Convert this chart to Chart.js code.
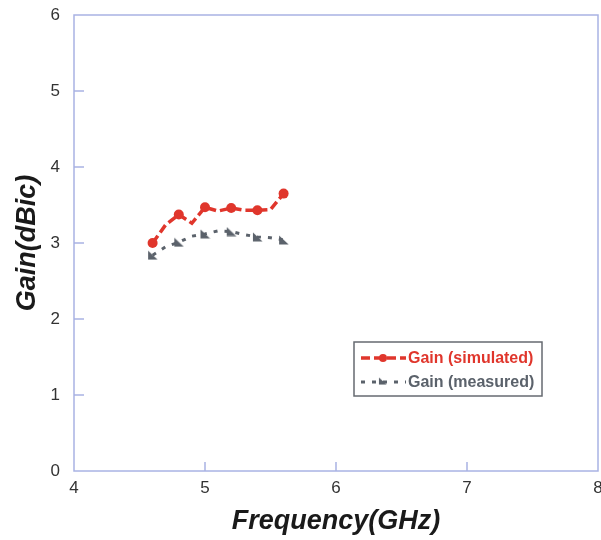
<!DOCTYPE html>
<html>
<head>
<meta charset="utf-8">
<script src="https://cdn.jsdelivr.net/npm/chart.js@4/dist/chart.umd.min.js"></script>
<style>
  html, body { margin: 0; padding: 0; background: #ffffff; overflow: hidden; }
  #wrap { width: 601px; height: 540px; position: relative; overflow: hidden; }
  #c { display: block; }
</style>
</head>
<body>
<div id="wrap"><canvas id="c" width="606" height="540"></canvas></div>
<script>
// ---- data ----
const frequency = [4.6, 4.7, 4.8, 4.9, 5.0, 5.1, 5.2, 5.3, 5.4, 5.5, 5.6];
const gainSimulated = [3.00, 3.24, 3.375, 3.26, 3.47, 3.42, 3.46, 3.43, 3.43, 3.44, 3.65];
const gainMeasured = [2.84, 2.95, 3.01, 3.09, 3.12, 3.16, 3.15, 3.11, 3.08, 3.07, 3.04];
const seriesLabels = ['Gain (simulated)', 'Gain (measured)'];
const xTicks = [4, 5, 6, 7, 8];
const yTicks = [0, 1, 2, 3, 4, 5, 6];
const xTitle = 'Frequency(GHz)';
const yTitle = 'Gain(dBic)';

const RED = '#e0362c';
const GRAY = '#5b626b';
const AXIS = '#a9b3e4';
const FONT = '"Liberation Sans", Arial, Helvetica, sans-serif';

// right-angle triangle marker (◣)
function makeTriangle(color) {
  const cv = document.createElement('canvas');
  cv.width = 11; cv.height = 10;
  const g = cv.getContext('2d');
  g.fillStyle = color;
  g.beginPath();
  g.moveTo(1, 0.5);
  g.lineTo(1, 9.5);
  g.lineTo(10.5, 9.5);
  g.closePath();
  g.fill();
  return cv;
}
const triImg = makeTriangle(GRAY);

const toPts = (xs, ys) => xs.map((x, i) => ({ x: x, y: ys[i] }));

const frameAndTicks = {
  id: 'frameAndTicks',
  beforeDatasetsDraw(chart) {
    const { ctx, chartArea: a, scales } = chart;
    ctx.save();
    ctx.strokeStyle = AXIS;
    ctx.lineWidth = 1.5;
    ctx.strokeRect(a.left, a.top, a.right - a.left, a.bottom - a.top);
    ctx.beginPath();
    xTicks.forEach(v => {
      if (v === xTicks[0] || v === xTicks[xTicks.length - 1]) return;
      const px = scales.x.getPixelForValue(v);
      ctx.moveTo(px, a.bottom);
      ctx.lineTo(px, a.bottom - 9);
    });
    yTicks.forEach(v => {
      if (v === yTicks[0] || v === yTicks[yTicks.length - 1]) return;
      const py = scales.y.getPixelForValue(v);
      ctx.moveTo(a.left, py);
      ctx.lineTo(a.left + 10, py);
    });
    ctx.stroke();
    ctx.restore();
  }
};

const legendBox = {
  id: 'legendBox',
  afterDraw(chart) {
    const ctx = chart.ctx;
    const bx = 354, by = 342, bw = 188, bh = 54;
    ctx.save();
    ctx.fillStyle = '#ffffff';
    ctx.fillRect(bx, by, bw, bh);
    ctx.strokeStyle = '#666a70';
    ctx.lineWidth = 1.5;
    ctx.strokeRect(bx, by, bw, bh);
    const rows = [by + 16, by + 40];
    chart.data.datasets.forEach((ds, i) => {
      const y = rows[i];
      ctx.save();
      ctx.strokeStyle = ds.borderColor;
      ctx.lineWidth = ds.borderWidth;
      ctx.setLineDash(ds.borderDash);
      ctx.beginPath();
      ctx.moveTo(361, y);
      ctx.lineTo(406, y);
      ctx.stroke();
      ctx.restore();
      if (i === 0) {
        ctx.fillStyle = ds.backgroundColor;
        ctx.beginPath();
        ctx.arc(383, y, 4, 0, Math.PI * 2);
        ctx.fill();
      } else {
        ctx.drawImage(triImg, 378, y - 5, 9, 8);
      }
      ctx.fillStyle = ds.borderColor;
      ctx.font = 'bold 16px ' + FONT;
      ctx.textBaseline = 'middle';
      ctx.textAlign = 'left';
      ctx.fillText(ds.label, 408, y + 1);
    });
    ctx.restore();
  }
};

new Chart(document.getElementById('c'), {
  type: 'line',
  data: {
    datasets: [
      {
        label: seriesLabels[0],
        data: toPts(frequency, gainSimulated),
        borderColor: RED,
        backgroundColor: RED,
        borderWidth: 3.5,
        borderDash: [9, 4],
        pointStyle: 'circle',
        pointRadius: ctx => (ctx.dataIndex % 2 === 0 ? 5 : 0),
        pointBorderWidth: 0,
        pointBackgroundColor: RED,
        tension: 0
      },
      {
        label: seriesLabels[1],
        data: toPts(frequency, gainMeasured),
        borderColor: GRAY,
        backgroundColor: GRAY,
        borderWidth: 3,
        borderDash: [4, 7],
        pointStyle: ctx => (ctx.dataIndex % 2 === 0 ? triImg : false),
        pointRadius: ctx => (ctx.dataIndex % 2 === 0 ? 5 : 0),
        tension: 0
      }
    ]
  },
  options: {
    responsive: false,
    animation: false,
    events: [],
    layout: { padding: { top: 15, right: 0, left: 0, bottom: 0 } },
    plugins: { legend: { display: false }, tooltip: { enabled: false } },
    scales: {
      x: {
        type: 'linear',
        min: xTicks[0],
        max: xTicks[xTicks.length - 1],
        afterBuildTicks: s => { s.ticks = xTicks.map(v => ({ value: v })); },
        afterFit: s => { s.height = 69; s.paddingLeft = 0; s.paddingRight = 0; },
        grid: { display: false, drawTicks: false },
        border: { display: false },
        ticks: { padding: 7, color: '#333333', font: { family: FONT, size: 17 }, maxRotation: 0 },
        title: {
          display: true,
          text: xTitle,
          color: '#1a1a1a',
          font: { family: FONT, size: 27, weight: 'bold', style: 'italic' },
          padding: { top: 0, bottom: 2 }
        }
      },
      y: {
        type: 'linear',
        min: yTicks[0],
        max: yTicks[yTicks.length - 1],
        afterBuildTicks: s => { s.ticks = yTicks.map(v => ({ value: v })); },
        afterFit: s => { s.width = 74; s.paddingTop = 0; s.paddingBottom = 0; },
        grid: { display: false, drawTicks: false },
        border: { display: false },
        ticks: { padding: 14, color: '#333333', font: { family: FONT, size: 17 } },
        title: {
          display: true,
          text: yTitle,
          color: '#1a1a1a',
          font: { family: FONT, size: 27, weight: 'bold', style: 'italic' },
          padding: { top: 11, bottom: 0 }
        }
      }
    }
  },
  plugins: [frameAndTicks, legendBox]
});
</script>
</body>
</html>
